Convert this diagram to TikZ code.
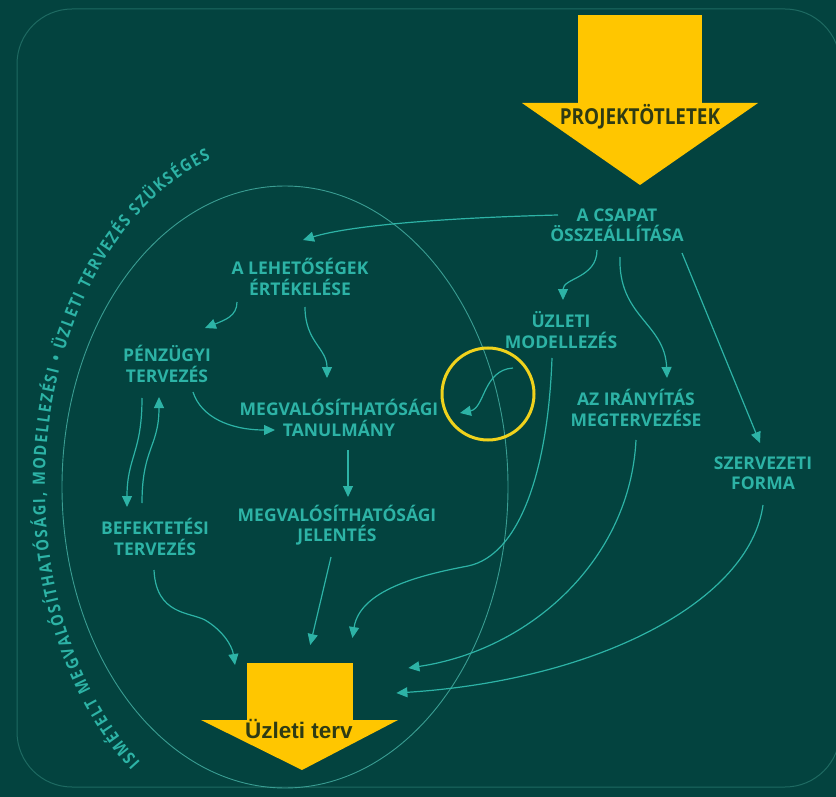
\documentclass[tikz,border=0pt]{standalone}
\usepackage{fontspec}
\setmainfont{Open Sans}
\newfontfamily\lblfont{Open Sans}
\newfontfamily\projfont[FakeStretch=0.86]{Open Sans}
\newfontfamily\arialf{Liberation Sans}
\usetikzlibrary{arrows.meta,calc,decorations.text}
\definecolor{bgc}{HTML}{03433F}
\definecolor{framec}{HTML}{1E6A62}
\definecolor{tealc}{HTML}{2DB3A6}
\definecolor{ellc}{HTML}{3A9D92}
\definecolor{yelc}{HTML}{FFC600}
\definecolor{ringc}{HTML}{F0D21C}
\definecolor{darkc}{HTML}{2E3B14}
\tikzset{
  lbl/.style={font=\lblfont\bfseries\fontsize{17.5}{20.5}\selectfont, text=tealc, align=center, inner sep=0pt},
  conn/.style={draw=tealc, line width=1.2pt, -{Triangle[length=11pt,width=10pt]}},
  ell/.style={draw=ellc, line width=0.9pt},
  yarrow/.style={fill=yelc, draw=none},
}
\newcommand{\curvefont}{\projfont\bfseries\fontsize{17}{17}\selectfont\color{tealc}}
\begin{document}
\begin{tikzpicture}[x=1pt,y=-1pt]
\useasboundingbox (0,0) rectangle (836,797);
\fill[bgc] (0,0) rectangle (836,797);
\draw[framec, line width=1pt, rounded corners=55] (17,9) rectangle (840,787);

% ellipse and curved text
\coordinate (ec) at (285,487);
\draw[ell] (ec) ellipse[x radius=223, y radius=301];
\path[decorate, decoration={text along path, text align={fit to path},
  text={|\curvefont|ISMÉTELT MEGVALÓSÍTHATÓSÁGI, MODELLEZÉSI • ÜZLETI TERVEZÉS SZÜKSÉGES}}]
  ([shift={(127:240 and 345)}]ec) arc[start angle=127, end angle=252, x radius=240, y radius=345];

% top arrow
\node[yarrow, minimum width=124pt, minimum height=89pt, inner sep=0pt, anchor=north west] (projshaft) at (578,15) {};
\fill[yelc] (522,103) -- (758,103) -- (640,185) -- cycle;
\node[font=\projfont\bfseries\fontsize{22}{22}\selectfont, text=darkc, inner sep=0pt] (projekt) at (640,117) {PROJEKTÖTLETEK};

% bottom arrow
\node[yarrow, minimum width=106pt, minimum height=58pt, inner sep=0pt, anchor=north west] (terv) at (247,663) {};
\fill[yelc] (201,720) -- (398,720) -- (302,770) -- cycle;
\node[font=\arialf\bfseries\fontsize{22.5}{22.5}\selectfont, text=darkc, inner sep=0pt] (tervtxt) at (299,729) {Üzleti terv};

% labels
\node[lbl] (csapat) at (617,225) {A CSAPAT\\ÖSSZEÁLLÍTÁSA};
\node[lbl] (lehet) at (300,277) {A LEHETŐSÉGEK\\ÉRTÉKELÉSE};
\node[lbl] (penz) at (167,364) {PÉNZÜGYI\\TERVEZÉS};
\node[lbl] (tanul) at (339,418) {MEGVALÓSÍTHATÓSÁGI\\TANULMÁNY};
\node[lbl] (jelent) at (337,525) {MEGVALÓSÍTHATÓSÁGI\\JELENTÉS};
\node[lbl] (befekt) at (155,537) {BEFEKTETÉSI\\TERVEZÉS};
\node[lbl] (uzleti) at (561,330) {ÜZLETI\\MODELLEZÉS};
\node[lbl] (irany) at (636,408) {AZ IRÁNYÍTÁS\\MEGTERVEZÉSE};
\node[lbl] (szerv) at (763,473) {SZERVEZETI\\FORMA};

% highlight ring
\node[draw=ringc, line width=3pt, circle, minimum size=92pt, inner sep=0pt] (ring) at (488,394) {};

% connectors
\draw[conn] ($(csapat)+(-59,-10)$) .. controls +(-120,3) and +(45,-14) .. ($(lehet)+(3,-37)$);
\draw[conn] ($(csapat)+(-20,25)$) .. controls +(0,28) and +(0,-22) .. ($(uzleti)+(2,-30)$);
\draw[conn] ($(csapat)+(3,32)$) .. controls +(-2,60) and +(-2,-55) .. ($(irany)+(31,-30)$);
\draw[conn] ($(csapat)+(65,28)$) -- ($(szerv)+(-3,-30)$);
\draw[conn] ($(lehet)+(-63,25)$) .. controls +(0,14) and +(20,-8) .. ($(penz)+(38,-36)$);
\draw[conn] ($(lehet)+(5,30)$) .. controls +(0,35) and +(0,-30) .. ($(tanul)+(-12,-40)$);
\draw[conn] ($(penz)+(26,28)$) .. controls +(8,25) and +(-45,0) .. ($(tanul)+(-64,12)$);
\draw[conn] ($(penz)+(-25,34)$) .. controls +(0,55) and +(0,-50) .. ($(befekt)+(-28,-30)$);
\draw[conn] ($(befekt)+(-13,-34)$) .. controls +(0,-55) and +(0,50) .. ($(penz)+(-8,33)$);
\draw[conn] ($(tanul)+(9,32)$) -- ($(jelent)+(11,-28)$);
\draw[conn] ($(uzleti)+(-48,38)$) .. controls +(-30,2) and +(25,-5) .. ($(tanul)+(121,-5)$);
\draw[conn] ($(befekt)+(-1,33)$) .. controls (156,615) and (190,612) .. (205,620) .. controls (222,630) and (232,645) .. ($(terv.north west)+(-12,2)$);
\draw[conn] ($(jelent)+(-6,32)$) -- ($(terv.north)+(10,-18)$);
\draw[conn] ($(uzleti)+(-9,28)$) .. controls (548,470) and (520,555) .. (468,566) .. controls (420,575) and (360,590) .. ($(terv.north east)+(-1,-25)$);
\draw[conn] ($(irany)+(0,32)$) .. controls (630,560) and (530,650) .. ($(terv.north east)+(55,5)$);
\draw[conn] ($(szerv)+(0,32)$) .. controls (750,600) and (600,680) .. ($(terv.north east)+(43,30)$);
\end{tikzpicture}
\end{document}
